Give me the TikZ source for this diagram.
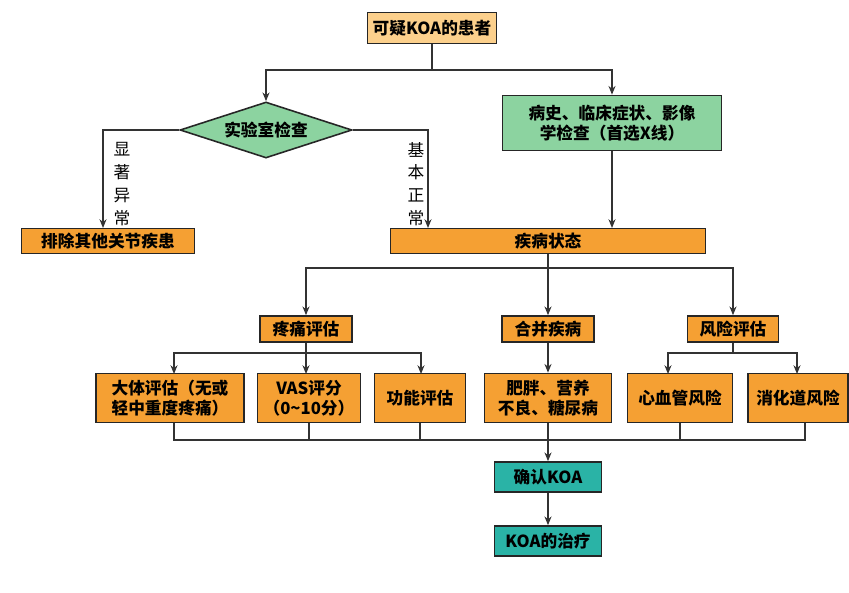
\documentclass[tikz,border=0pt]{standalone}
\usepackage{fontspec}
\setmainfont{Noto Sans CJK SC}
\usetikzlibrary{shapes.geometric,arrows.meta}
\definecolor{lorange}{HTML}{FCD08C}
\definecolor{dorange}{HTML}{F5A033}
\definecolor{lgreen}{HTML}{8CD3A0}
\definecolor{teal}{HTML}{2AB3A6}
\tikzset{
  box/.style={draw=black!85,line width=0.9pt,inner sep=1pt,align=center,
    font=\fontsize{9.5}{11.5}\selectfont\bfseries},
  ora/.style={box,fill=dorange},
  lnk/.style={draw=black!80,line width=0.7pt},
  arr/.style={lnk,-{Stealth[length=5pt,width=4pt]}}
}
\begin{document}
\begin{tikzpicture}[x=0.02cm,y=-0.02cm]
\useasboundingbox (0,0) rectangle (849,592);
\node[box,fill=lorange,minimum width=91*0.02cm,minimum height=31*0.02cm,inner xsep=3pt] (v1) at (432,28) {可疑KOA的患者};
\node[diamond,draw=black!85,line width=0.9pt,fill=lgreen,aspect=3.2,inner sep=0pt,minimum width=172*0.02cm,minimum height=56*0.02cm,font=\fontsize{9.5}{11.5}\selectfont\bfseries] (v2) at (266,130) {实验室检查};
\node[box,fill=lgreen,minimum width=219*0.02cm,minimum height=55*0.02cm] (v3) at (612,123) {病史、临床症状、影像\\学检查（首选X线）};
\node[ora,minimum width=173*0.02cm,minimum height=25*0.02cm] (v4) at (108,241) {排除其他关节疾患};
\node[ora,minimum width=315*0.02cm,minimum height=25*0.02cm] (v5) at (548,241) {疾病状态};
\node[ora,minimum width=92*0.02cm,minimum height=26*0.02cm] (v6) at (306,329) {疼痛评估};
\node[ora,minimum width=92*0.02cm,minimum height=26*0.02cm] (v7) at (548,329) {合并疾病};
\node[ora,minimum width=91*0.02cm,minimum height=26*0.02cm] (v8) at (733,329) {风险评估};
\node[ora,minimum width=148*0.02cm,minimum height=49*0.02cm] (v9) at (170,398) {大体评估（无或\\轻中重度疼痛）};
\node[ora,minimum width=103*0.02cm,minimum height=49*0.02cm] (v10) at (309,398) {VAS评分\\（0\textasciitilde10分）};
\node[ora,minimum width=91*0.02cm,minimum height=49*0.02cm] (v11) at (420,398) {功能评估};
\node[ora,minimum width=127*0.02cm,minimum height=49*0.02cm] (v12) at (548,398) {肥胖、营养\\不良、糖尿病};
\node[ora,minimum width=105*0.02cm,minimum height=49*0.02cm] (v13) at (680,398) {心血管风险};
\node[ora,minimum width=100*0.02cm,minimum height=49*0.02cm] (v14) at (798,398) {消化道风险};
\node[box,fill=teal,minimum width=107*0.02cm,minimum height=30*0.02cm] (v15) at (548,477) {确认KOA};
\node[box,fill=teal,minimum width=107*0.02cm,minimum height=30*0.02cm] (v16) at (548,541) {KOA的治疗};
\node[align=center,font=\fontsize{9.5}{13}\selectfont] (t1) at (122,184) {显\\著\\异\\常};
\node[align=center,font=\fontsize{9.5}{13}\selectfont] (t2) at (416,184) {基\\本\\正\\常};
\draw[lnk] (v1) -- (432,70) coordinate (c1);
\draw[arr] (c1) -| (v2.north);
\draw[arr] (c1) -| (v3.north);
\draw[arr] (v2.west) -| (103,228);
\draw[arr] (v2.east) -| (428,228);
\draw[arr] (v3) -- (612,228);
\draw[lnk] (v5) -- (548,268) coordinate (c2);
\draw[arr] (c2) -| (v6.north);
\draw[arr] (c2) -- (v7.north);
\draw[arr] (c2) -| (v8.north);
\draw[lnk] (v6) -- (306,353) coordinate (c3);
\draw[arr] (c3) -| (174,374);
\draw[arr] (c3) -- (306,374);
\draw[arr] (c3) -| (421,374);
\draw[arr] (v7) -- (v12);
\draw[lnk] (v8) -- (733,353) coordinate (c4);
\draw[arr] (c4) -| (668,374);
\draw[arr] (c4) -| (797,374);
\draw[lnk] (174,423) |- (805,440) -- (805,423);
\draw[lnk] (309,423) -- (309,440);
\draw[lnk] (420,423) -- (420,440);
\draw[lnk] (680,423) -- (680,440);
\draw[arr] (v12) -- (v15);
\draw[arr] (v15) -- (v16);
\end{tikzpicture}
\end{document}
